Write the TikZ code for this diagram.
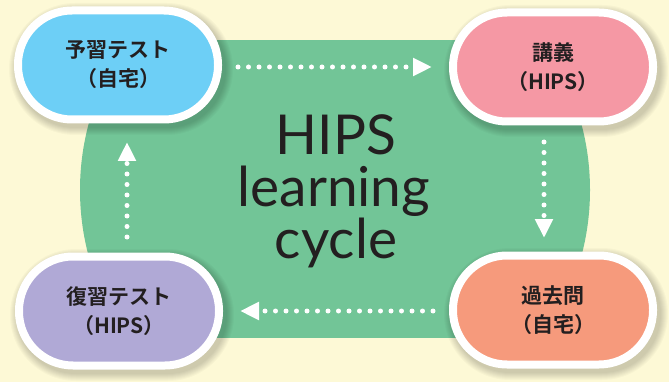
\documentclass[tikz,border=0pt]{standalone}
\usepackage{fontspec}
\newfontfamily\jp{Noto Sans CJK JP}[BoldFont={Noto Sans CJK JP Bold}]
\newfontfamily\lat{Lato}
\usetikzlibrary{arrows.meta}
\definecolor{bg}{RGB}{253,249,214}
\definecolor{grn}{RGB}{114,197,151}
\definecolor{cblue}{RGB}{109,207,246}
\definecolor{cpink}{RGB}{245,152,164}
\definecolor{cpurple}{RGB}{176,169,214}
\definecolor{csalmon}{RGB}{246,154,124}
\definecolor{txt}{RGB}{35,31,32}
\newcommand\pillshade[2]{%
  \foreach \i in {1,...,8}{%
    \fill[black,opacity=0.025,rounded corners={58pt+\i pt}]
      ({#1+3-104-\i},{#2+4-58-\i}) rectangle ({#1+3+104+\i},{#2+4+58+\i});
  }%
}
\begin{document}
\begin{tikzpicture}[x=1pt,y=-1pt,
  pill/.style={draw=white, line width=8pt, rounded corners=54pt,
    minimum width=200pt, minimum height=109pt, inner sep=0pt, align=center,
    font=\jp\bfseries\fontsize{21}{29}\selectfont, text=txt},
  dotarrow/.style={draw=white, line width=5pt, line cap=round,
    dash pattern=on 0pt off 10.5pt, -{Triangle[width=17pt,length=19pt,sharp]}},
  bigtxt/.style={font=\lat\fontsize{55}{51}\selectfont, text=txt, inner sep=0pt, anchor=base}]
\useasboundingbox (0,0) rectangle (669,382);
\fill[bg] (0,0) rectangle (669,382);
\begin{scope}
  \clip (0,41) rectangle (669,337);
  \fill[grn] (335,190) circle (255);
\end{scope}
\node[bigtxt] (t1) at (336,155) {HIPS};
\node[bigtxt] (t2) at (334,207) {learning};
\node[bigtxt] (t3) at (336,258) {cycle};
\pillshade{118}{65}
\pillshade{553}{67}
\pillshade{119}{311}
\pillshade{553}{310}
\node[pill, fill=cblue] (yoshu) at (118,65) {予習テスト\\（自宅）};
\node[pill, fill=cpink] (kogi) at (553,67) {講義\\（HIPS）};
\node[pill, fill=cpurple] (fukushu) at (119,311) {復習テスト\\（HIPS）};
\node[pill, fill=csalmon] (kako) at (553,310) {過去問\\（自宅）};
\coordinate (a1s) at (238,67);
\coordinate (a1e) at (432,67);
\coordinate (a2s) at (544,142);
\coordinate (a2e) at (544,238);
\coordinate (a3s) at (433,311);
\coordinate (a3e) at (240,311);
\coordinate (a4s) at (127,237);
\coordinate (a4e) at (127,142);
\draw[dotarrow] (a1s) -- (a1e);
\draw[dotarrow] (a2s) -- (a2e);
\draw[dotarrow] (a3s) -- (a3e);
\draw[dotarrow] (a4s) -- (a4e);
\end{tikzpicture}
\end{document}
